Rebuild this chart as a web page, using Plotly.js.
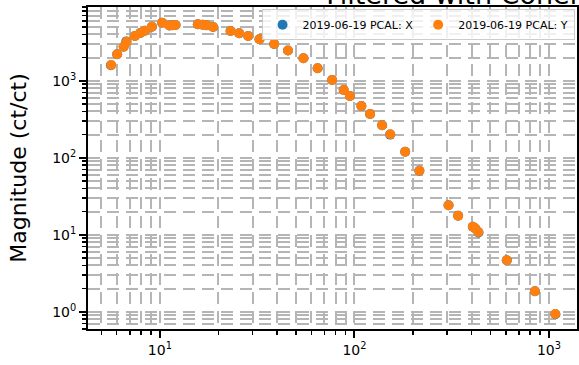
<!DOCTYPE html>
<html>
<head>
<meta charset="utf-8">
<script src="https://cdn.plot.ly/plotly-3.0.1.min.js"></script>
<style>html,body{margin:0;padding:0;background:#fff;}#chart{width:579px;height:365px;}</style>
</head>
<body>
<div id="chart"></div>
<script>
// Frequency (Hz)
const freqY = [5.62, 6.03, 6.51, 6.75, 7.44, 7.93, 8.37, 9.10, 10.26, 11.2, 11.6, 12.04,
  15.67, 16.57, 17.37, 18.76, 23.08, 25.57, 28.45, 32.51, 38.69, 45.54, 54.7, 64.7,
  76.8, 88.1, 94.8, 108.6, 120.4, 138.8, 153.0, 182.4, 215.8, 304.7, 341.3, 406.1,
  418.3, 433.5, 607.3, 847.3, 1077];
const magY = [1600, 2203, 2765, 3210, 3806, 4160, 4457, 5023, 5663, 5210, 5250, 5284,
  5402, 5337, 5260, 4977, 4421, 4126, 3806, 3449, 2996, 2467, 1954, 1453,
  1021, 757, 633, 469, 369, 263.6, 201.3, 119.7, 67.8, 24.1, 17.65, 12.7,
  12.03, 10.84, 4.65, 1.84, 0.933];
const freqX = [5.60, 6.03, 6.51, 6.72, 7.44, 7.93, 8.37, 9.10, 10.26, 11.2, 11.6, 12.04,
  15.67, 16.57, 17.37, 18.76, 23.08, 25.57, 28.45, 32.51, 38.69, 45.54, 54.7, 64.7,
  76.8, 88.1, 94.8, 108.6, 120.4, 138.8, 152.6, 182.4, 215.8, 304.7, 341.3, 406.1,
  418.3, 434.5, 607.3, 847.3, 1080];
const magX = [1585, 2203, 2765, 3240, 3806, 4160, 4457, 5023, 5663, 5210, 5250, 5284,
  5402, 5337, 5260, 4977, 4421, 4126, 3806, 3449, 2996, 2467, 1954, 1453,
  1021, 757, 633, 469, 369, 263.6, 199.5, 119.7, 67.8, 24.1, 17.65, 12.7,
  12.03, 10.7, 4.65, 1.84, 0.925];
const seriesNames = ['2019-06-19 PCAL: X', '2019-06-19 PCAL: Y'];
const xTickVals = [10, 100, 1000];
const xTickText = ['10<sup>1</sup>', '10<sup>2</sup>', '10<sup>3</sup>'];
const yTickVals = [1, 10, 100, 1000];
const yTickText = ['10<sup>0</sup>', '10<sup>1</sup>', '10<sup>2</sup>', '10<sup>3</sup>'];
const titleText = 'Filtered with Coherence';
const yTitle = 'Magnitude (ct/ct)';

function minorVals(lo, hi) {
  const v = [];
  for (let d = lo; d <= hi; d++) {
    for (let m = 2; m <= 9; m++) v.push(m * Math.pow(10, d));
  }
  return v;
}

const gridCol = '#b5b5b5';
const gridDash = '12px,7px';
const font = 'DejaVu Sans, sans-serif';

const traces = [
  {x: freqX, y: magX, name: seriesNames[0], mode: 'markers', type: 'scatter',
   marker: {color: '#1f77b4', size: 10}},
  {x: freqY, y: magY, name: seriesNames[1], mode: 'markers', type: 'scatter',
   marker: {color: '#ff7f0e', size: 10}}
];

const layout = {
  width: 579, height: 365,
  margin: {l: 88, r: 2, t: 7, b: 36, pad: 0},
  paper_bgcolor: '#fff', plot_bgcolor: '#fff',
  font: {family: font, color: '#000', size: 14},
  title: {text: titleText, font: {family: font, size: 27, color: '#000'},
          xref: 'paper', x: 0.487, xanchor: 'left', yref: 'container', y: 1.04, yanchor: 'bottom'},
  showlegend: true,
  legend: {orientation: 'h', x: 0.995, xanchor: 'right', y: 0.993, yanchor: 'top',
           bgcolor: 'rgba(255,255,255,0.8)', bordercolor: '#cccccc', borderwidth: 1,
           font: {family: font, size: 11, color: '#000'}},
  xaxis: {type: 'log', range: [Math.log10(4.27), Math.log10(1394)],
          tickmode: 'array', tickvals: xTickVals, ticktext: xTickText,
          ticks: 'outside', ticklen: 7, tickwidth: 2, tickcolor: '#000',
          showline: true, linecolor: '#000', linewidth: 2, mirror: true,
          showgrid: true, gridcolor: gridCol, gridwidth: 2, griddash: gridDash,
          minor: {tickmode: 'array', tickvals: minorVals(0, 3), ticks: 'outside', ticklen: 4,
                  tickwidth: 1.5, tickcolor: '#000', showgrid: true, gridcolor: gridCol,
                  gridwidth: 2, griddash: gridDash},
          zeroline: false, tickfont: {size: 14}},
  yaxis: {type: 'log', range: [Math.log10(0.596), Math.log10(9060)],
          tickmode: 'array', tickvals: yTickVals, ticktext: yTickText,
          ticks: 'outside', ticklen: 7, tickwidth: 2, tickcolor: '#000',
          showline: true, linecolor: '#000', linewidth: 2, mirror: true,
          showgrid: true, gridcolor: gridCol, gridwidth: 2, griddash: gridDash,
          minor: {tickmode: 'array', tickvals: minorVals(-1, 3), ticks: 'outside', ticklen: 4,
                  tickwidth: 1.5, tickcolor: '#000', showgrid: true, gridcolor: gridCol,
                  gridwidth: 2, griddash: gridDash},
          zeroline: false, tickfont: {size: 14},
          title: {text: yTitle, font: {family: font, size: 22, color: '#000'}, standoff: 19}}
};

Plotly.newPlot('chart', traces, layout, {staticPlot: true, displayModeBar: false});
</script>
</body>
</html>
